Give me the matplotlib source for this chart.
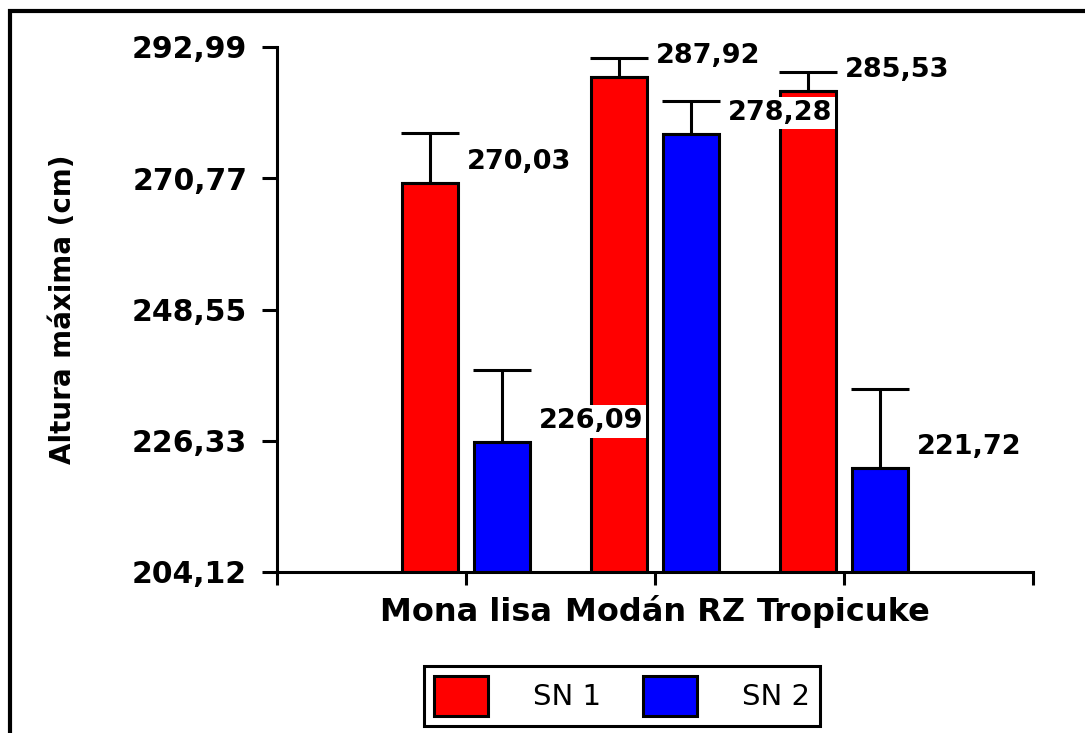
import numpy as np
import matplotlib.pyplot as plt
from matplotlib.patches import Rectangle

plt.rcParams['font.family'] = ['DejaVu Sans']

# data
categories = ['Mona lisa', 'Modán RZ', 'Tropicuke']
sn1 = [270.03, 287.92, 285.53]
sn2 = [226.09, 278.28, 221.72]
sn1_err = [8.4, 3.2, 3.3]
sn2_err = [12.2, 5.6, 13.4]
yticks = [204.12, 226.33, 248.55, 270.77, 292.99]
series_names = ['SN 1', 'SN 2']
series_colors = ['#ff0000', '#0000ff']


def fmt(v):
    return f'{v:.2f}'.replace('.', ',')


fig = plt.figure(figsize=(10.85, 7.33), dpi=100)
ax = fig.add_axes([277 / 1085, 1 - 572 / 733, 756 / 1085, 525 / 733])

x = np.arange(1, len(categories) + 1)
width = 0.3
offset = 0.19

for vals, errs, name, color, dx in zip([sn1, sn2], [sn1_err, sn2_err],
                                       series_names, series_colors,
                                       [-offset, offset]):
    pos = x + dx
    ax.bar(pos, np.array(vals) - yticks[0], width, bottom=yticks[0],
           color=color, edgecolor='black', linewidth=2.2, label=name,
           zorder=2)
    ax.errorbar(pos, vals, yerr=[np.zeros(len(vals)), errs], fmt='none',
                ecolor='black', elinewidth=2.2, capsize=21, capthick=2.2,
                zorder=3)
    for px, v in zip(pos, vals):
        ax.annotate(fmt(v), xy=(px + width / 2, v), xytext=(6, 15),
                    textcoords='offset points', ha='left', va='center',
                    fontsize=19.5, fontweight='bold', zorder=5,
                    bbox=dict(boxstyle='square,pad=0.12', fc='white',
                              ec='none'))

ax.set_xlim(0, 4)
ax.set_ylim(yticks[0], yticks[-1])
ax.set_yticks(yticks)
ax.set_yticklabels([fmt(v) for v in yticks], fontsize=21.5, fontweight='bold')
ax.set_xticks([0, 1, 2, 3, 4])
ax.set_xticklabels([''] + categories + [''], fontsize=23, fontweight='bold')

for s in ['top', 'right']:
    ax.spines[s].set_visible(False)
for s in ['left', 'bottom']:
    ax.spines[s].set_linewidth(2.2)
ax.tick_params(axis='y', length=11, width=2.2, pad=10.5)
ax.tick_params(axis='x', length=9, width=2.2, pad=9)

ax.set_ylabel('Altura máxima (cm)', fontsize=20, fontweight='bold')
ax.yaxis.set_label_coords(-0.265, 0.5)

leg = ax.legend(loc='upper left', bbox_to_anchor=(424 / 1085, 1 - 666 / 733),
                bbox_transform=fig.transFigure, ncol=2, fontsize=21,
                frameon=True, fancybox=False, framealpha=1,
                handlelength=1.85, handleheight=1.75, handletextpad=1.55,
                columnspacing=1.45, borderpad=0.33, borderaxespad=0)
leg.get_frame().set_edgecolor('black')
leg.get_frame().set_linewidth(2.2)
for h in leg.legend_handles:
    h.set_linewidth(2.2)

# outer frame, cut off at right and bottom like the reference
fig.patches.append(Rectangle((10 / 1085, -0.1), 1.2, 1.1 - 11 / 733,
                             transform=fig.transFigure, fill=False,
                             edgecolor='black', linewidth=3))

fig.savefig('out.png', dpi=100)
